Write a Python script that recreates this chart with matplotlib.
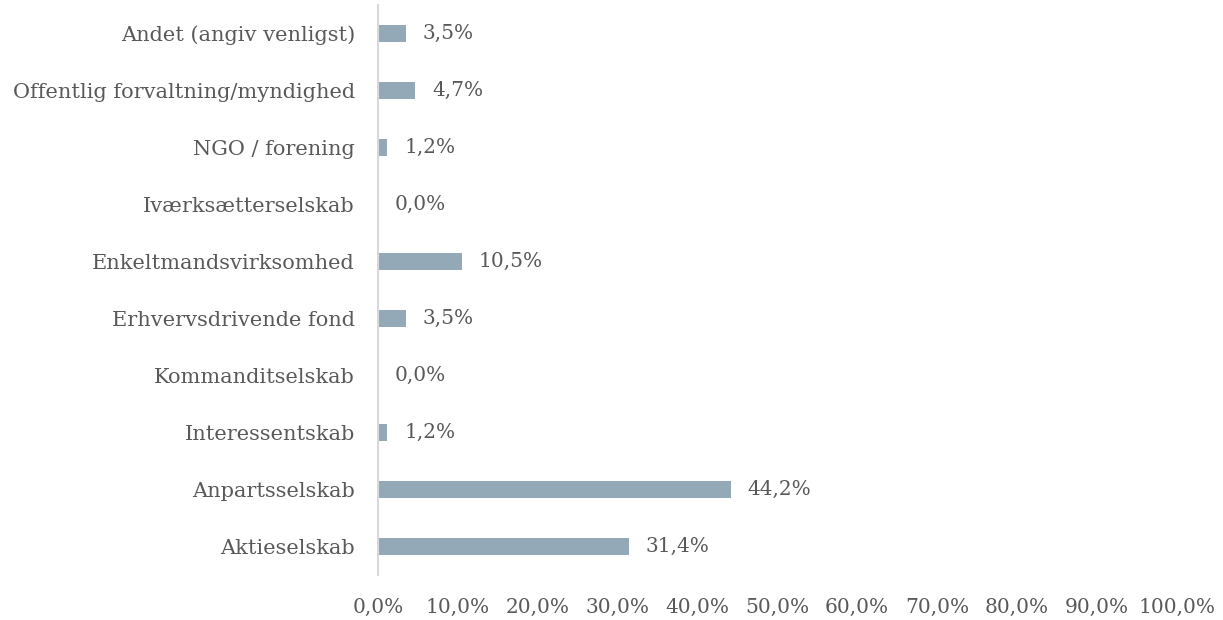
import matplotlib
matplotlib.use("Agg")
import matplotlib.pyplot as plt
from matplotlib.ticker import FuncFormatter

# bottom to top, as drawn
categories = ["Aktieselskab", "Anpartsselskab", "Interessentskab", "Kommanditselskab",
              "Erhvervsdrivende fond", "Enkeltmandsvirksomhed", "Iværksætterselskab",
              "NGO / forening", "Offentlig forvaltning/myndighed", "Andet (angiv venligst)"]
shares = [31.4, 44.2, 1.2, 0.0, 3.5, 10.5, 0.0, 1.2, 4.7, 3.5]
xticks = [0, 10, 20, 30, 40, 50, 60, 70, 80, 90, 100]

TXT = "#595959"
plt.rcParams["font.family"] = ["DejaVu Serif"]

fig = plt.figure(figsize=(12.23, 6.2), dpi=100)
ax = fig.add_axes([0.309, 0.073, 0.653, 0.919])

y = range(len(categories))
ax.barh(y, shares, height=0.3, color="#94a9b8")
for yi, v in zip(y, shares):
    ax.annotate(f"{v:.1f}%".replace(".", ","), (v, yi), xytext=(12, 0),
                textcoords="offset points", va="center", ha="left",
                fontsize=14.5, color=TXT)

ax.set_xlim(0, 100)
ax.set_ylim(-0.5, len(categories) - 0.5)
ax.set_yticks(list(y))
ax.set_yticklabels(categories, fontsize=15, color=TXT)
ax.set_xticks(xticks)
ax.xaxis.set_major_formatter(FuncFormatter(lambda v, p: f"{v:.1f}%".replace(".", ",")))
ax.tick_params(axis="x", length=0, pad=17, labelsize=14.5, labelcolor=TXT)
ax.tick_params(axis="y", length=0, pad=16.5)
for s in ["top", "right", "bottom"]:
    ax.spines[s].set_visible(False)
ax.spines["left"].set_color("#d9d9d9")
ax.spines["left"].set_linewidth(1.5)

fig.savefig("out.png", dpi=100)
